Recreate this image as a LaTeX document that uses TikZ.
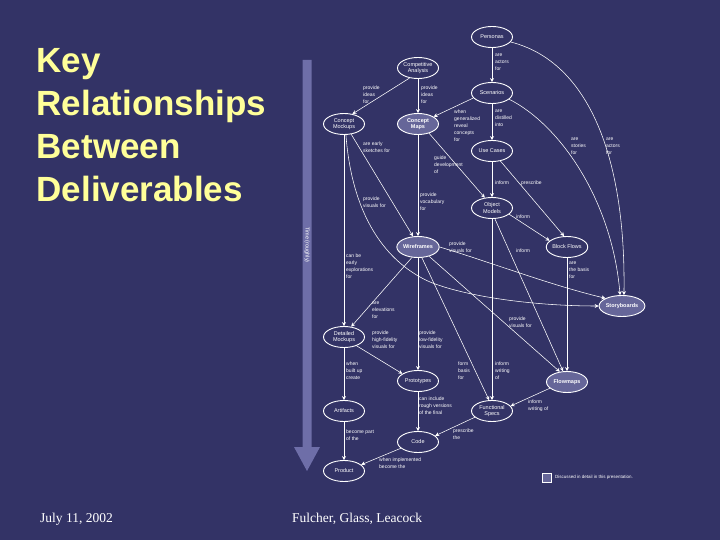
\documentclass[tikz,border=0pt]{standalone}
\usepackage{fontspec}
\setmainfont{Liberation Serif}
\newfontfamily\lsans{Liberation Sans}
\usetikzlibrary{shapes.geometric,arrows.meta}
\definecolor{bg}{RGB}{51,51,102}
\definecolor{hl}{RGB}{102,102,153}
\definecolor{ttl}{RGB}{255,255,153}
\definecolor{tarrow}{RGB}{110,110,168}
\begin{document}
\begin{tikzpicture}[x=1pt,y=-1pt,
 ell/.style={ellipse,draw=white,line width=0.9pt,minimum width=41pt,minimum height=21pt,inner sep=0pt,align=center,text=white,font=\lsans\fontsize{5.5}{6.5}\selectfont},
 hot/.style={ell,fill=hl,font=\lsans\bfseries\fontsize{5.5}{6.5}\selectfont},
 lab/.style={anchor=north west,inner sep=0pt,align=left,text=white,font=\lsans\fontsize{5}{7}\selectfont},
 rel/.style={draw=white,line width=0.55pt,-{Stealth[length=4pt,width=4pt]}},
]
\fill[bg] (0,0) rectangle (720,540);
\useasboundingbox (0,0) rectangle (720,540);

% title and footer
\node[anchor=base west,inner sep=0pt,align=left,text=ttl,font=\lsans\bfseries\fontsize{35}{43}\selectfont] (title) at (36.5,201.5) {Key\\Relationships\\Between\\Deliverables};
\node[anchor=base west,inner sep=0pt,text=white,font=\fontsize{13.5}{16}\selectfont] (date) at (40,522) {July 11, 2002};
\node[anchor=base west,inner sep=0pt,text=white,font=\fontsize{13.5}{16}\selectfont] (authors) at (292,522) {Fulcher, Glass, Leacock};

% time arrow
\fill[tarrow] (302.5,60) -- (311.5,60) -- (311.5,447) -- (320,447) -- (307,471) -- (294,447) -- (302.5,447) -- cycle;
\node[rotate=-90,inner sep=0pt,text=white,font=\lsans\fontsize{5.5}{6.5}\selectfont] (time) at (307,245) {Time (roughly)};

% nodes
\node[ell] (personas) at (492,37) {Personas};
\node[ell] (comp) at (418,68) {Competitive\\Analysis};
\node[ell] (scen) at (492,93) {Scenarios};
\node[ell] (cmock) at (344,124) {Concept\\Mockups};
\node[hot] (cmaps) at (418,124) {Concept\\Maps};
\node[ell] (ucases) at (492,151) {Use Cases};
\node[ell] (omod) at (492,208) {Object\\Models};
\node[hot] (wire) at (418,247) {Wireframes};
\node[ell] (bflows) at (567,247) {Block Flows};
\node[hot] (story) at (622,306) {Storyboards};
\node[ell] (dmock) at (344,337) {Detailed\\Mockups};
\node[ell] (proto) at (418,381) {Prototypes};
\node[hot] (fmaps) at (567,382) {Flowmaps};
\node[ell] (artif) at (344,411) {Artifacts};
\node[ell] (fspecs) at (492,411) {Functional\\Specs};
\node[ell] (code) at (418,442) {Code};
\node[ell] (product) at (344,471) {Product};

% connectors
\draw[rel] (personas.south) -- (scen.north);
\draw[rel] (personas.-15) .. controls (590,62) and (626,160) .. (story.80);
\draw[rel] (scen.-20) .. controls (560,125) and (612,200) .. (story.100);
\draw[rel] (scen.195) -- (cmaps.25);
\draw[rel] (scen.south) -- (ucases.north);
\draw[rel] (comp.230) -- (cmock.50);
\draw[rel] (comp.south) -- (cmaps.north);
\draw[rel] (cmock.-55) -- (wire.115);
\draw[rel] (cmock.south) -- (dmock.north);
\draw[rel] (cmock.-80) .. controls (352,215) and (385,262) .. (430,282) .. controls (470,298) and (540,306) .. (story.west);
\draw[rel] (cmaps.south) -- (wire.north);
\draw[rel] (cmaps.-40) -- (omod.125);
\draw[rel] (ucases.south) -- (omod.north);
\draw[rel] (ucases.-50) -- (bflows.105);
\draw[rel] (omod.-20) -- (bflows.160);
\draw[rel] (omod.-75) -- (fmaps.110);
\draw[rel] (omod.south) -- (fspecs.north);
\draw[rel] (wire.east) .. controls (490,262) and (550,285) .. (story.155);
\draw[rel] (wire.-120) -- (dmock.55);
\draw[rel] (wire.south) -- (proto.north);
\draw[rel] (wire.-70) -- (fspecs.105);
\draw[rel] (wire.-40) -- (fmaps.125);
\draw[rel] (bflows.south) -- (fmaps.north);
\draw[rel] (dmock.-35) -- (proto.155);
\draw[rel] (dmock.south) -- (artif.north);
\draw[rel] (artif.south) -- (product.north);
\draw[rel] (proto.south) -- (code.north);
\draw[rel] (fspecs.200) -- (code.20);
\draw[rel] (code.200) -- (product.20);
\draw[rel] (fmaps.200) -- (fspecs.15);

% connector labels
\node[lab] (l1) at (495,54) {are\\actors\\for};
\node[lab] (l2) at (606,138) {are\\actors\\for};
\node[lab] (l3) at (571,138) {are\\stories\\for};
\node[lab] (l4) at (454,110) {when\\generalized\\reveal\\concepts\\for};
\node[lab] (l5) at (495,110) {are\\distilled\\into};
\node[lab] (l6) at (363,86) {provide\\ideas\\for};
\node[lab] (l7) at (421,86) {provide\\ideas\\for};
\node[lab] (l8) at (363,142) {are early\\sketches for};
\node[lab] (l9) at (434,156) {guide\\development\\of};
\node[lab] (l10) at (495,181) {inform};
\node[lab] (l11) at (521,181) {prescribe};
\node[lab] (l12) at (363,197) {provide\\visuals for};
\node[lab] (l13) at (420,193) {provide\\vocabulary\\for};
\node[lab] (l14) at (516,215) {inform};
\node[lab] (l15) at (516,249) {inform};
\node[lab] (l16) at (449,242) {provide\\visuals for};
\node[lab] (l17) at (346,254) {can be\\early\\explorations\\for};
\node[lab] (l18) at (569,262) {are\\the basis\\for};
\node[lab] (l19) at (372,302) {are\\elevations\\for};
\node[lab] (l20) at (509,317) {provide\\visuals for};
\node[lab] (l21) at (372,331) {provide\\high-fidelity\\visuals for};
\node[lab] (l22) at (419,331) {provide\\low-fidelity\\visuals for};
\node[lab] (l23) at (346,362) {when\\built up\\create};
\node[lab] (l24) at (458,362) {form\\basis\\for};
\node[lab] (l25) at (495,362) {inform\\writing\\of};
\node[lab] (l26) at (528,400) {inform\\writing of};
\node[lab] (l27) at (419,397) {can include\\rough versions\\of the final};
\node[lab] (l28) at (346,430) {become part\\of the};
\node[lab] (l29) at (453,429) {prescribe\\the};
\node[lab] (l30) at (379,458) {when implemented\\become the};

% legend
\node[draw=white,fill=hl,line width=0.6pt,minimum size=9pt,inner sep=0pt] (legbox) at (546.5,477.5) {};
\node[lab,anchor=west,font=\lsans\fontsize{4.5}{5}\selectfont] (legtext) at (555,477.5) {Discussed in detail in this presentation.};
\end{tikzpicture}
\end{document}
